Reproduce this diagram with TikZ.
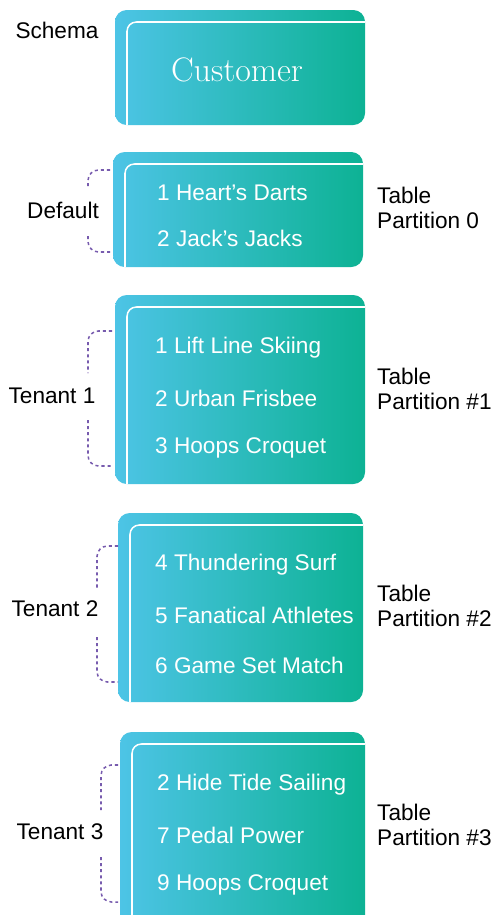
\documentclass[tikz,border=0pt]{standalone}
\usepackage{fontspec}
\setmainfont{Liberation Sans}
\newfontfamily\slabfont{Latin Modern Roman}
\definecolor{boxleft}{HTML}{4DC4E6}
\definecolor{boxright}{HTML}{0DB294}
\definecolor{bracketpurple}{HTML}{775BAE}

\begin{document}
\begin{tikzpicture}[
		x=0.03cm,y=-0.03cm,
		tablebox/.style={rounded corners=10pt,left color=boxleft,right color=boxright},
		inner/.style={white,line width=1.3pt,rounded corners=8pt},
		item/.style={anchor=west,text=white,font=\fontsize{19.3}{22}\selectfont,inner sep=0pt},
		lab/.style={font=\fontsize{19.3}{22}\selectfont,inner sep=0pt},
		part/.style={lab,anchor=west,align=left,font=\fontsize{19.3}{21.3}\selectfont},
		bracket/.style={bracketpurple,line width=1.3pt,dash pattern=on 2.6pt off 2.6pt,rounded corners=9pt}
		]
		\useasboundingbox (0,0) rectangle (497,915);
		\clip (0,0) rectangle (497,915);
		% ===== Boxes: left/top/right/bottom =====
		\foreach \l/\t/\r/\b in {115/10/365/125, 113/152/363/267, 115/295/365/484,
			118/513/363/702, 120/732/365/930}{
			\shade[tablebox] (\l,\t) rectangle (\r,\b);
			\draw[inner] (\l+12,\b) -- (\l+12,\t+12) -- (\r,\t+12);
		}
		% ===== Schema =====
		\node[lab] (schema) at (57,30) {Schema};
		\node[text=white,font=\slabfont\fontsize{29}{31}\selectfont] (customer) at (237,70) {Customer};
		% ===== Default partition =====
		\node[lab] (default) at (63,210) {Default};
		\node[item] (d1) at (157,193) {1 Heart's Darts};
		\node[item] (d2) at (157,238) {2 Jack's Jacks};
		\node[part] (p0) at (377,208) {Table\\Partition 0};
		\draw[bracket] (110,170) -| (88,186);
		\draw[bracket] (88,236) |- (110,252);
		% ===== Tenant 1 =====
		\node[lab] (tenA) at (52,396) {Tenant 1};
		\node[item] (a1) at (155,348) {1 Lift Line Skiing};
		\node[item] (a2) at (155,398) {2 Urban Frisbee};
		\node[item] (a3) at (155,448) {3 Hoops Croquet};
		\node[part] (p1) at (377,389) {Table\\Partition \#1};
		\draw[bracket] (112,331) -| (88,373);
		\draw[bracket] (88,420) |- (112,466);
		% ===== Tenant 2 =====
		\node[lab] (tenB) at (55,609) {Tenant 2};
		\node[item] (b1) at (155,565) {4 Thundering Surf};
		\node[item] (b2) at (155,615) {5 Fanatical Athletes};
		\node[item] (b3) at (155,665) {6 Game Set Match};
		\node[part] (p2) at (377,606) {Table\\Partition \#2};
		\draw[bracket] (118,546) -| (97,590);
		\draw[bracket] (97,637) |- (118,682);
		% ===== Tenant 3 =====
		\node[lab] (tenC) at (60,832) {Tenant 3};
		\node[item] (c1) at (157,785) {2 Hide Tide Sailing};
		\node[item] (c2) at (157,835) {7 Pedal Power};
		\node[item] (c3) at (157,885) {9 Hoops Croquet};
		\node[part] (p3) at (377,825) {Table\\Partition \#3};
		\draw[bracket] (118,765) -| (101,810);
		\draw[bracket] (101,857) |- (118,902);
	\end{tikzpicture}
\end{document}
